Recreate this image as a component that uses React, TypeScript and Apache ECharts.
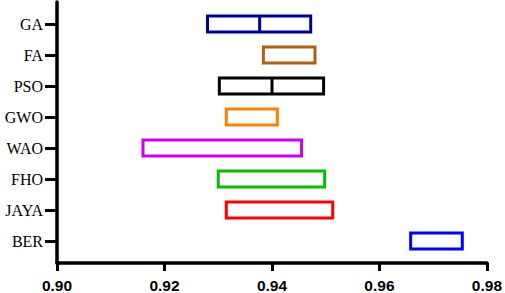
import React, { useEffect, useRef } from "react";
import * as echarts from "echarts";

const categories = ["GA", "FA", "PSO", "GWO", "WAO", "FHO", "JAYA", "BER"];
const lowValues = [0.928, 0.9384, 0.9302, 0.9315, 0.916, 0.93, 0.9315, 0.9658];
const highValues = [0.9472, 0.948, 0.9496, 0.941, 0.9455, 0.9498, 0.9513, 0.9754];
const medianValues: (number | null)[] = [0.9377, null, 0.94, null, null, null, null, null];
const colors = ["#000099", "#B06010", "#000000", "#FF8000", "#CC00EE", "#00C000", "#FF0000", "#0000FF"];
const xTicks = [0.9, 0.92, 0.94, 0.96, 0.98];

export default function App() {
  const ref = useRef<HTMLDivElement>(null);
  useEffect(() => {
    if (!ref.current) return;
    const chart = echarts.init(ref.current, null, { renderer: "svg" });
    const data = categories.map((c, i) => [i, lowValues[i], highValues[i], medianValues[i] ?? -1]);
    chart.setOption({
      animation: false,
      grid: [
        { left: 57, right: 18, top: 8.5, bottom: 36.5 },
        { left: 57, right: 18, top: 2, bottom: 29 },
      ],
      xAxis: [
        { type: "value", gridIndex: 0, min: xTicks[0], max: xTicks[xTicks.length - 1], show: false },
        {
          type: "value",
          gridIndex: 1,
          min: xTicks[0],
          max: xTicks[xTicks.length - 1],
          interval: 0.02,
          axisLine: { show: true, lineStyle: { color: "#000", width: 3.5 } },
          axisTick: { show: true, length: 8, lineStyle: { color: "#000", width: 3 } },
          splitLine: { show: false },
          axisLabel: {
            margin: 14,
            color: "#000",
            fontFamily: "Liberation Sans, Arial, sans-serif",
            fontWeight: "bold",
            fontSize: 15.5,
            formatter: (v: number) => v.toFixed(2),
          },
        },
      ],
      yAxis: [
        {
          type: "category",
          gridIndex: 0,
          data: categories,
          inverse: true,
          axisLine: { show: false },
          axisTick: { show: true, alignWithLabel: true, length: 12, lineStyle: { color: "#000", width: 3 } },
          axisLabel: {
            margin: 14,
            color: "#000",
            fontFamily: "Liberation Serif, Times New Roman, serif",
            fontSize: 16,
          },
          splitLine: { show: false },
        },
        {
          type: "value",
          gridIndex: 1,
          min: 0,
          max: 1,
          axisLine: { show: true, lineStyle: { color: "#000", width: 3.5 } },
          axisTick: { show: false },
          axisLabel: { show: false },
          splitLine: { show: false },
        },
      ],
      series: [
        {
          type: "custom",
          xAxisIndex: 0,
          yAxisIndex: 0,
          data,
          renderItem: (params: any, api: any) => {
            const idx = api.value(0);
            const lo = api.coord([api.value(1), idx]);
            const hi = api.coord([api.value(2), idx]);
            const h = api.size([0, 1])[1] * 0.52;
            const color = colors[params.dataIndex];
            const children: any[] = [
              {
                type: "rect",
                shape: { x: lo[0], y: lo[1] - h / 2, width: hi[0] - lo[0], height: h },
                style: { fill: "none", stroke: color, lineWidth: 3 },
              },
            ];
            const med = api.value(3);
            if (med > 0) {
              const m = api.coord([med, idx]);
              children.push({
                type: "line",
                shape: { x1: m[0], y1: m[1] - h / 2, x2: m[0], y2: m[1] + h / 2 },
                style: { stroke: color, lineWidth: 3 },
              });
            }
            return { type: "group", children };
          },
        },
      ],
    });
    return () => chart.dispose();
  }, []);
  return <div ref={ref} style={{ width: 505, height: 293, position: "absolute", left: 0, top: 0 }} />;
}
